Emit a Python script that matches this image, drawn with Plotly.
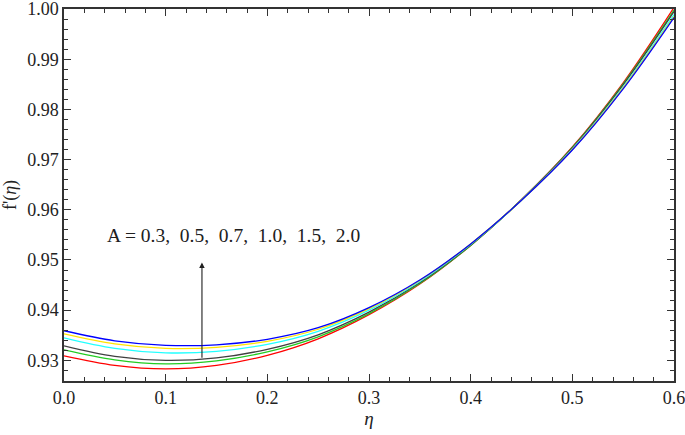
import plotly.graph_objects as go

eta = [0.0, 0.05, 0.1, 0.15, 0.2, 0.25, 0.3, 0.35, 0.4, 0.45, 0.5, 0.55, 0.6]

f_a03 = [0.9309, 0.9290, 0.9283, 0.9290, 0.9310, 0.9343, 0.9391, 0.9452, 0.9529, 0.9620, 0.9725, 0.9853, 1.0003]
f_a05 = [0.9321, 0.9301, 0.9293, 0.9299, 0.9317, 0.9347, 0.9393, 0.9453, 0.9529, 0.9620, 0.9724, 0.9851, 0.9998]
f_a07 = [0.9329, 0.9308, 0.9300, 0.9305, 0.9322, 0.9351, 0.9396, 0.9455, 0.9530, 0.9620, 0.9723, 0.9849, 0.9995]
f_a10 = [0.9345, 0.9324, 0.9315, 0.9318, 0.9332, 0.9358, 0.9400, 0.9457, 0.9531, 0.9619, 0.9721, 0.9845, 0.9989]
f_a15 = [0.9353, 0.9333, 0.9324, 0.9326, 0.9338, 0.9362, 0.9403, 0.9459, 0.9532, 0.9619, 0.9720, 0.9843, 0.9985]
f_a20 = [0.9359, 0.9339, 0.9330, 0.9331, 0.9342, 0.9365, 0.9405, 0.9460, 0.9532, 0.9619, 0.9719, 0.9841, 0.9983]

series = [
    ("A = 0.3", f_a03, "#ff0000"),
    ("A = 0.5", f_a05, "#22cc22"),
    ("A = 0.7", f_a07, "#404040"),
    ("A = 1.0", f_a10, "#22ffff"),
    ("A = 1.5", f_a15, "#ffe400"),
    ("A = 2.0", f_a20, "#0000ff"),
]

fig = go.Figure()
for name, ys, col in series:
    fig.add_trace(go.Scatter(x=eta, y=ys, mode="lines", name=name,
                             line=dict(color=col, width=1.3, shape="spline")))

# arrow showing increasing A
fig.add_annotation(x=0.1357, y=0.9495, ax=0.1357, ay=0.9302,
                   xref="x", yref="y", axref="x", ayref="y",
                   text="", showarrow=True, arrowhead=2, arrowsize=1,
                   arrowwidth=1.1, arrowcolor="#202020")
fig.add_annotation(x=0.1666, y=0.9549, xref="x", yref="y", showarrow=False,
                   text="A = 0.3,  0.5,  0.7,  1.0,  1.5,  2.0",
                   font=dict(size=19.5, color="#202020"))

axis_common = dict(
    showgrid=False, zeroline=False, showline=True, linecolor="#333333",
    linewidth=1.5, mirror="ticks", ticks="inside", ticklen=7, tickwidth=1.2,
    tickcolor="#333333", tickfont=dict(size=18, color="#222222"),
    automargin=False, ticklabeloverflow="allow",
)

fig.update_xaxes(range=[0, 0.6], dtick=0.1, tickformat=".1f",
                 minor=dict(dtick=0.02, ticks="inside", ticklen=4, tickcolor="#333333"),
                 title=dict(text="<i>η</i>", font=dict(size=19, color="#222222"), standoff=2),
                 **axis_common)
fig.update_yaxes(range=[0.92589, 1.0], dtick=0.01, tickformat=".2f", tick0=0.93,
                 minor=dict(dtick=0.002, ticks="inside", ticklen=4, tickcolor="#333333"),
                 title=dict(text="f'(<i>η</i>)", font=dict(size=18, color="#222222"), standoff=9),
                 **axis_common)

fig.update_layout(
    width=685, height=435,
    margin=dict(l=64, r=11, t=9, b=54),
    plot_bgcolor="white", paper_bgcolor="white",
    showlegend=False,
    font=dict(family="Liberation Serif"),
)

# drop the page's default body margin so the figure fills the window
fig.write_html("out.html", config={"displayModeBar": False},
               post_script="document.body.style.margin='0';")
